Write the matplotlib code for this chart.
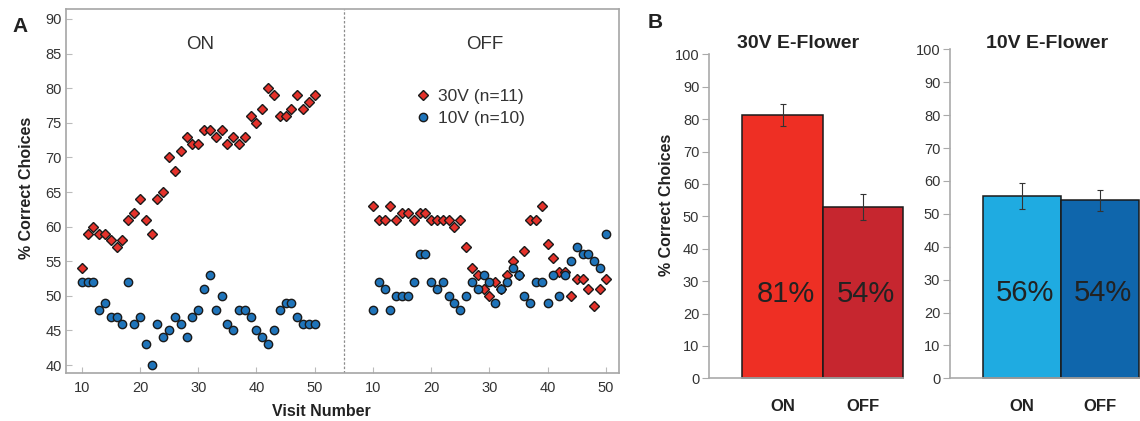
import matplotlib
matplotlib.use('Agg')
import matplotlib.pyplot as plt

plt.rcParams['font.family'] = ['Liberation Sans', 'DejaVu Sans']

# panel A data (visit number vs % correct)
visits = list(range(10, 51))
on_30v = [54, 59, 60, 59, 59, 58, 57, 58, 61, 62, 64, 61, 59, 64, 65, 70, 68, 71, 73, 72,
          72, 74, 74, 73, 74, 72, 73, 72, 73, 76, 75, 77, 80, 79, 76, 76, 77, 79, 77, 78, 79]
on_10v = [52, 52, 52, 48, 49, 47, 47, 46, 52, 46, 47, 43, 40, 46, 44, 45, 47, 46, 44, 47,
          48, 51, 53, 48, 50, 46, 45, 48, 48, 47, 45, 44, 43, 45, 48, 49, 49, 47, 46, 46, 46]
off_30v = [63, 61, 61, 63, 61, 62, 62, 61, 62, 62, 61, 61, 61, 61, 60, 61, 57, 54, 53, 51,
           50, 52, 51, 53, 55, 53, 56.5, 61, 61, 63, 57.5, 55.5, 53.5, 53.5, 50, 52.5, 52.5, 51, 48.5, 51, 52.5]
off_10v = [48, 52, 51, 48, 50, 50, 50, 52, 56, 56, 52, 51, 52, 50, 49, 48, 50, 52, 51, 53,
           52, 49, 51, 52, 54, 53, 50, 49, 52, 52, 49, 53, 50, 53, 55, 57, 56, 56, 55, 54, 59]
tick_visits = [10, 20, 30, 40, 50]

# panel B data
conditions = ['ON', 'OFF']
mean_30v = [81.3, 53.0]
err_30v = [3.3, 4.0]
pct_30v = ['81%', '54%']
mean_10v = [55.4, 54.1]
err_10v = [4.0, 3.2]
pct_10v = ['56%', '54%']

red = '#e4322b'
blue = '#1f74ba'
off_shift = 50

fig = plt.figure(figsize=(11.4, 4.21), dpi=100)

# ---- panel A
axA = fig.add_axes([66 / 1140, 1 - 372.7 / 421, 553.3 / 1140, 363.4 / 421])
x_off = [v + off_shift for v in visits]
axA.plot(visits, on_30v, 'D', ms=5.0, mfc=red, mec='#1a1a1a', mew=1.0, zorder=3, label='30V (n=11)')
axA.plot(x_off, off_30v, 'D', ms=5.0, mfc=red, mec='#1a1a1a', mew=1.0, zorder=3)
axA.plot(visits, on_10v, 'o', ms=6.0, mfc=blue, mec='#1a1a1a', mew=1.0, zorder=4, label='10V (n=10)')
axA.plot(x_off, off_10v, 'o', ms=6.0, mfc=blue, mec='#1a1a1a', mew=1.0, zorder=4)
axA.axvline(55, color='#8c8c8c', ls=(0, (2, 1.5)), lw=0.9)

axA.set_xlim(7.3, 102.3)
axA.set_ylim(38.9, 91.4)
axA.set_xticks(tick_visits + [v + off_shift for v in tick_visits])
axA.set_xticklabels([str(v) for v in tick_visits] * 2)
axA.set_yticks(range(40, 95, 5))
axA.tick_params(direction='in', length=4, color='#bbbbbb', labelsize=10.5, labelcolor='#333333')
axA.tick_params(axis='x', pad=6)
axA.tick_params(axis='y', pad=3)
for s in axA.spines.values():
    s.set_color('#a6a6a6')
    s.set_linewidth(1.2)

axA.text(0.242, 0.902, 'ON', transform=axA.transAxes, ha='center', va='center', fontsize=13.5, color='#333333')
axA.text(0.757, 0.902, 'OFF', transform=axA.transAxes, ha='center', va='center', fontsize=13.5, color='#333333')
axA.legend(loc='upper left', bbox_to_anchor=(0.629, 0.78), frameon=False, fontsize=12.5,
           handlelength=1.0, handletextpad=0.4, borderpad=0, borderaxespad=0, labelspacing=0.35,
           labelcolor='#333333')

fig.text(321 / 1140, 1 - 411.7 / 421, 'Visit Number', ha='center', va='center', fontsize=11.5, fontweight='bold', color='#222222')
fig.text(26.7 / 1140, 1 - 188 / 421, '% Correct Choices', rotation=90, ha='center', va='center', fontsize=11.5, fontweight='bold', color='#222222')
fig.text(20 / 1140, 1 - 27 / 421, 'A', ha='center', va='center', fontsize=15, fontweight='bold', color='#222222')


# ---- panel B
def bar_panel(ax, means, errs, pcts, colors, xleft):
    ax.bar([0, 1], means, width=1.0, color=colors, edgecolor='#1a1a1a', linewidth=1.1,
           yerr=errs, error_kw=dict(elinewidth=0.8, capsize=2.5, capthick=0.8, ecolor='#333333'),
           clip_on=False)
    for i in range(len(means)):
        ax.text(i + 0.04, 26, pcts[i], ha='center', va='center', fontsize=21, color='#222222')
    ax.set_xlim(xleft, 1.5)
    ax.set_ylim(0, 100)
    ax.set_yticks(range(0, 101, 10))
    ax.set_xticks([0, 1])
    ax.set_xticklabels(conditions, fontsize=12, fontweight='bold', color='#222222')
    ax.tick_params(axis='x', length=0, pad=15)
    ax.tick_params(axis='y', direction='out', length=5, color='#aaaaaa', labelsize=10.5,
                   labelcolor='#333333', pad=2)
    ax.spines['top'].set_visible(False)
    ax.spines['right'].set_visible(False)
    for side in ['left', 'bottom']:
        ax.spines[side].set_color('#aaaaaa')
        ax.spines[side].set_linewidth(1.2)


axB1 = fig.add_axes([709 / 1140, 1 - 378.3 / 421, 194.3 / 1140, 324 / 421])
bar_panel(axB1, mean_30v, err_30v, pct_30v, ['#ee2f24', '#c6262f'], -0.914)
axB2 = fig.add_axes([950 / 1140, 1 - 378.3 / 421, 189 / 1140, 329 / 421])
bar_panel(axB2, mean_10v, err_10v, pct_10v, ['#1fabe1', '#0f66ac'], -0.918)

fig.text(798 / 1140, 1 - 44 / 421, '30V E-Flower', ha='center', va='center', fontsize=14, fontweight='bold', color='#222222')
fig.text(1047 / 1140, 1 - 44 / 421, '10V E-Flower', ha='center', va='center', fontsize=14, fontweight='bold', color='#222222')
fig.text(666.7 / 1140, 1 - 205 / 421, '% Correct Choices', rotation=90, ha='center', va='center', fontsize=11.5, fontweight='bold', color='#222222')
fig.text(655 / 1140, 1 - 22 / 421, 'B', ha='center', va='center', fontsize=15, fontweight='bold', color='#222222')

fig.savefig('out.png', dpi=100)
